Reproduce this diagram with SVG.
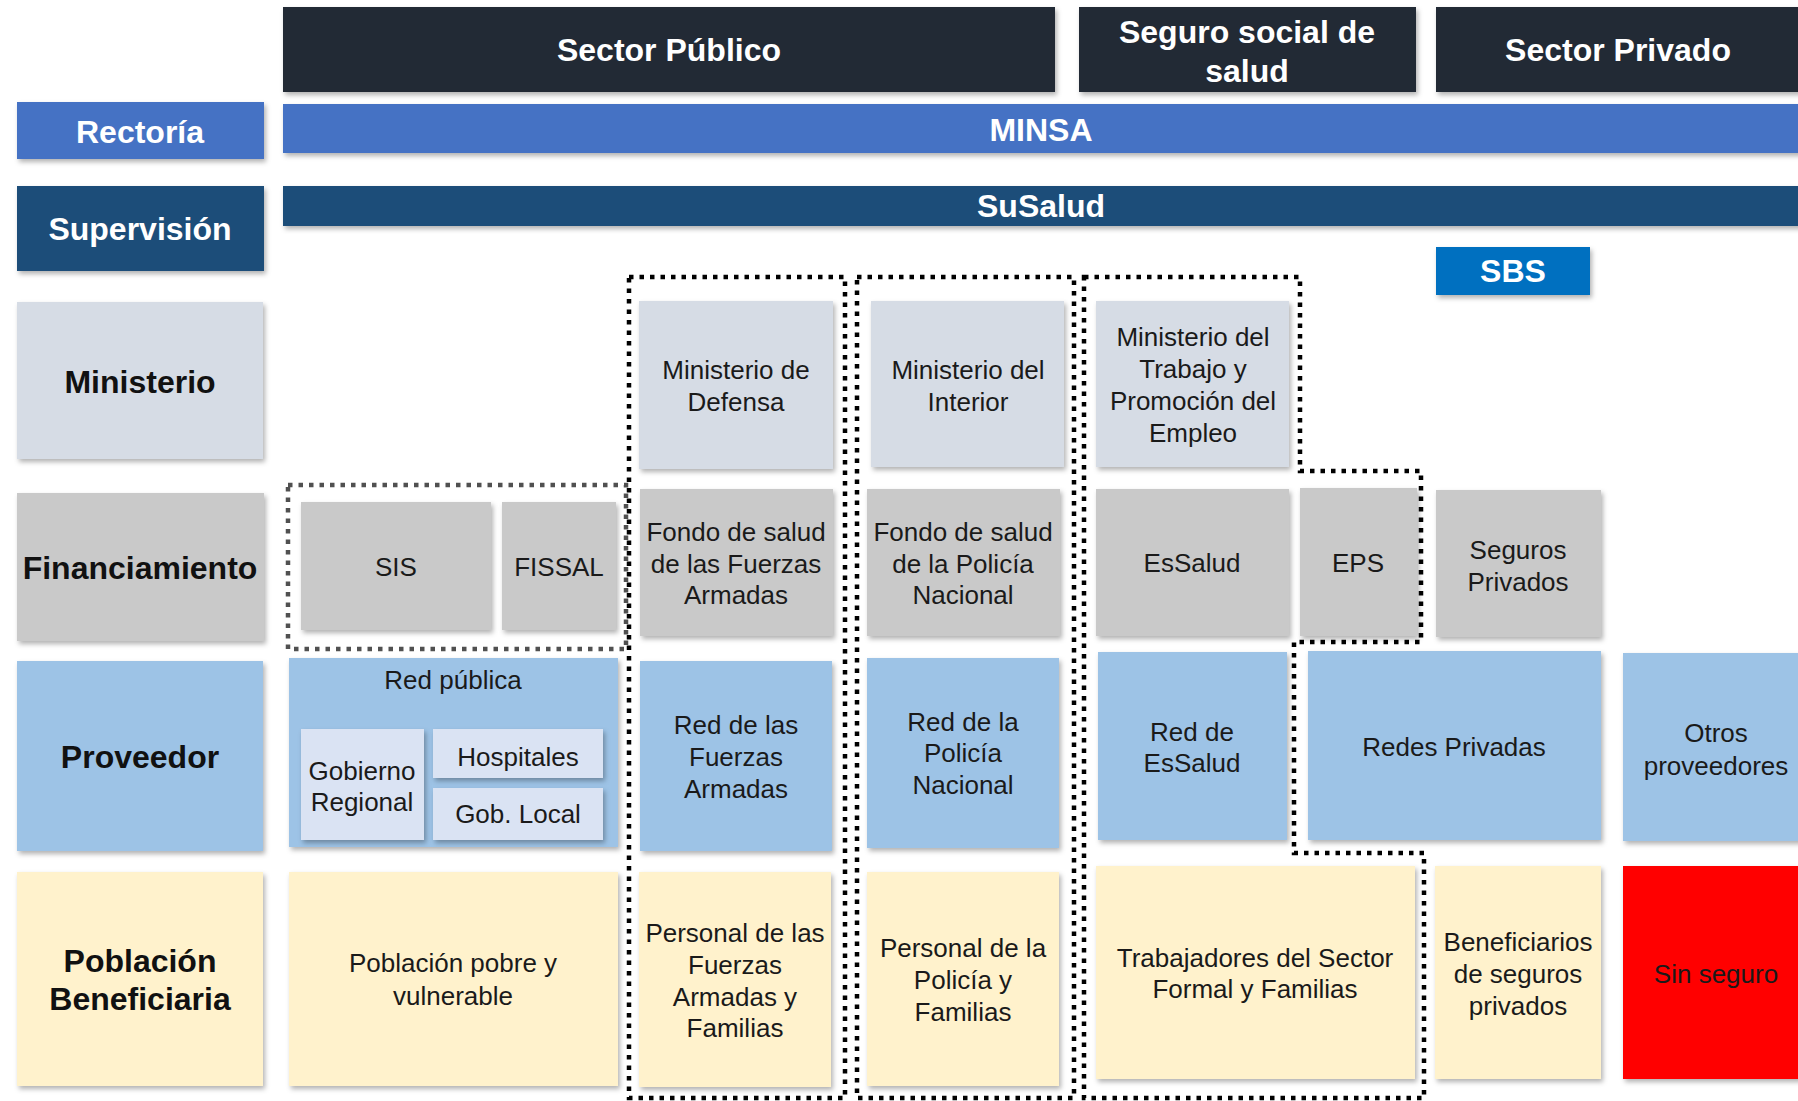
<svg xmlns="http://www.w3.org/2000/svg" width="1798" height="1101" viewBox="0 0 1798 1101">
<defs>
<filter id="sh" x="-10%" y="-10%" width="125%" height="130%">
<feDropShadow dx="2" dy="3" stdDeviation="2.5" flood-color="#000" flood-opacity="0.3"/>
</filter>
<style>
text{font-family:"Liberation Sans",Arial,sans-serif;text-anchor:middle}
.b{font-weight:bold;font-size:32px}
.w{fill:#fff}
.k{fill:#111}
.r{font-size:26px;fill:#1a1a1a}
rect{filter:url(#sh)}
.hdr{fill:#232A36}
.rec{fill:#4472C4}
.sup{fill:#1F4E79}
.sbs{fill:#0070C0}
.min{fill:#D6DCE5}
.fin{fill:#C9C9C9}
.pro{fill:#9DC3E6}
.sub{fill:#DAE3F3}
.pob{fill:#FFF2CC}
.red{fill:#FF0000}
.dot{fill:none;stroke:#000;stroke-width:4.5;stroke-dasharray:4.5 6}
.dotg{fill:none;stroke:#505050;stroke-width:4.5;stroke-dasharray:4.5 6}
</style>
</defs>
<rect width="1798" height="1101" fill="#fff" style="filter:none"/>

<g id="h-publico"><rect class="hdr" x="283" y="7" width="772" height="85"/><text class="b w" x="669" y="61">Sector Público</text></g>
<g id="h-seguro"><rect class="hdr" x="1079" y="7" width="337" height="85"/><text class="b w" x="1247" y="43">Seguro social de</text><text class="b w" x="1247" y="82">salud</text></g>
<g id="h-privado"><rect class="hdr" x="1436" y="7" width="374" height="85"/><text class="b w" x="1618" y="61">Sector Privado</text></g>

<g id="l-rectoria"><rect class="rec" x="17" y="102" width="247" height="57"/><text class="b w" x="140" y="143">Rectoría</text></g>
<g id="minsa"><rect class="rec" x="283" y="104" width="1530" height="49"/><text class="b w" x="1041" y="141">MINSA</text></g>
<g id="l-supervision"><rect class="sup" x="17" y="186" width="247" height="85"/><text class="b w" x="140" y="240">Supervisión</text></g>
<g id="susalud"><rect class="sup" x="283" y="186" width="1530" height="40"/><text class="b w" x="1041" y="217">SuSalud</text></g>
<g id="sbs"><rect class="sbs" x="1436" y="247" width="154" height="48"/><text class="b w" x="1513" y="282">SBS</text></g>

<g id="l-ministerio"><rect class="min" x="17" y="302" width="246" height="157"/><text class="b k" x="140" y="393">Ministerio</text></g>
<g id="l-financiamiento"><rect class="fin" x="17" y="493" width="247" height="148"/><text class="b k" x="140" y="579">Financiamiento</text></g>
<g id="l-proveedor"><rect class="pro" x="17" y="661" width="246" height="190"/><text class="b k" x="140" y="768">Proveedor</text></g>
<g id="l-poblacion"><rect class="pob" x="17" y="872" width="246" height="214"/><text class="b k" x="140" y="972">Población</text><text class="b k" x="140" y="1010">Beneficiaria</text></g>

<g id="min-defensa"><rect class="min" x="639" y="301" width="194" height="168"/><text class="r" x="736" y="379">Ministerio de</text><text class="r" x="736" y="411">Defensa</text></g>
<g id="min-interior"><rect class="min" x="871" y="301" width="193" height="166"/><text class="r" x="968" y="379">Ministerio del</text><text class="r" x="968" y="411">Interior</text></g>
<g id="min-trabajo"><rect class="min" x="1096" y="301" width="193" height="166"/><text class="r" x="1193" y="346">Ministerio del</text><text class="r" x="1193" y="378">Trabajo y</text><text class="r" x="1193" y="410">Promoción del</text><text class="r" x="1193" y="442">Empleo</text></g>

<g id="sis"><rect class="fin" x="301" y="502" width="190" height="128"/><text class="r" x="396" y="576">SIS</text></g>
<g id="fissal"><rect class="fin" x="502" y="502" width="114" height="128"/><text class="r" x="559" y="576">FISSAL</text></g>
<g id="fondo-ffaa"><rect class="fin" x="640" y="489" width="193" height="147"/><text class="r" x="736" y="541">Fondo de salud</text><text class="r" x="736" y="573">de las Fuerzas</text><text class="r" x="736" y="604">Armadas</text></g>
<g id="fondo-policia"><rect class="fin" x="867" y="489" width="193" height="147"/><text class="r" x="963" y="541">Fondo de salud</text><text class="r" x="963" y="573">de la Policía</text><text class="r" x="963" y="604">Nacional</text></g>
<g id="essalud"><rect class="fin" x="1096" y="489" width="193" height="147"/><text class="r" x="1192" y="572">EsSalud</text></g>
<g id="eps"><rect class="fin" x="1300" y="488" width="117" height="148"/><text class="r" x="1358" y="572">EPS</text></g>
<g id="seguros-privados"><rect class="fin" x="1436" y="490" width="165" height="147"/><text class="r" x="1518" y="559">Seguros</text><text class="r" x="1518" y="591">Privados</text></g>

<g id="red-publica"><rect class="pro" x="289" y="658" width="329" height="189"/><text class="r" x="453" y="689">Red pública</text>
<g id="gob-regional"><rect class="sub" x="301" y="729" width="123" height="111"/><text class="r" x="362" y="780">Gobierno</text><text class="r" x="362" y="811">Regional</text></g>
<g id="hospitales"><rect class="sub" x="433" y="729" width="170" height="49"/><text class="r" x="518" y="766">Hospitales</text></g>
<g id="gob-local"><rect class="sub" x="433" y="788" width="170" height="52"/><text class="r" x="518" y="823">Gob. Local</text></g>
</g>
<g id="red-ffaa"><rect class="pro" x="640" y="661" width="192" height="190"/><text class="r" x="736" y="734">Red de las</text><text class="r" x="736" y="766">Fuerzas</text><text class="r" x="736" y="798">Armadas</text></g>
<g id="red-policia"><rect class="pro" x="867" y="658" width="192" height="190"/><text class="r" x="963" y="731">Red de la</text><text class="r" x="963" y="762">Policía</text><text class="r" x="963" y="794">Nacional</text></g>
<g id="red-essalud"><rect class="pro" x="1098" y="652" width="189" height="188"/><text class="r" x="1192" y="741">Red de</text><text class="r" x="1192" y="772">EsSalud</text></g>
<g id="redes-privadas"><rect class="pro" x="1308" y="651" width="293" height="189"/><text class="r" x="1454" y="756">Redes Privadas</text></g>
<g id="otros-proveedores"><rect class="pro" x="1623" y="653" width="187" height="188"/><text class="r" x="1716" y="742">Otros</text><text class="r" x="1716" y="775">proveedores</text></g>

<g id="pob-pobre"><rect class="pob" x="289" y="872" width="329" height="214"/><text class="r" x="453" y="972">Población pobre y</text><text class="r" x="453" y="1005">vulnerable</text></g>
<g id="pob-ffaa"><rect class="pob" x="639" y="872" width="192" height="215"/><text class="r" x="735" y="942">Personal de las</text><text class="r" x="735" y="974">Fuerzas</text><text class="r" x="735" y="1006">Armadas y</text><text class="r" x="735" y="1037">Familias</text></g>
<g id="pob-policia"><rect class="pob" x="867" y="872" width="192" height="214"/><text class="r" x="963" y="957">Personal de la</text><text class="r" x="963" y="989">Policía y</text><text class="r" x="963" y="1021">Familias</text></g>
<g id="pob-trabajadores"><rect class="pob" x="1096" y="866" width="319" height="213"/><text class="r" x="1255" y="967">Trabajadores del Sector</text><text class="r" x="1255" y="998">Formal y Familias</text></g>
<g id="pob-beneficiarios"><rect class="pob" x="1435" y="866" width="166" height="213"/><text class="r" x="1518" y="951">Beneficiarios</text><text class="r" x="1518" y="983">de seguros</text><text class="r" x="1518" y="1015">privados</text></g>
<g id="sin-seguro"><rect class="red" x="1623" y="866" width="187" height="213"/><text class="r" x="1716" y="983">Sin seguro</text></g>

<g id="connectors">
<rect class="dotg" x="288" y="485" width="338" height="164" style="filter:none"/>
<rect class="dot" x="629" y="277" width="216" height="821" style="filter:none"/>
<rect class="dot" x="857" y="277" width="217" height="821" style="filter:none"/>
<path class="dot" d="M1084,277 H1300 V471 H1421 V642 H1294 V853 H1424 V1098 H1084 Z"/>
</g>
</svg>
